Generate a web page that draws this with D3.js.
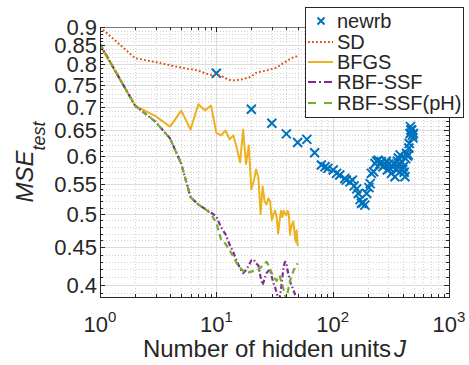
<!DOCTYPE html>
<html><head><meta charset="utf-8">
<script src="https://cdn.jsdelivr.net/npm/d3@7"></script>
<style>body{margin:0;background:#fff} svg{display:block} text{font-family:"Liberation Sans",Arial,Helvetica,sans-serif;fill:#262626}</style>
</head><body><svg id="c" width="469" height="365"></svg>
<script>
// ---------------- data ----------------
const hiddenUnits = [1,2,3,4,5,6,7,8,9,10,11,12,13,14,15,16,17,18,19,20,21,22,23,24,25,26,27,28,29,30,31,32,33,34,35,36,37,38,39,40,41,42,43,44,45,46,47,48,49,50];
const sdValues = [.900,.816,.806,.798,.792,.788,.785,.778,.774,.775,
  .772,.766,.762,.761,.762,.763,.764,.766,.768,.770,
  .775,.779,.781,.782,.783,.784,.785,.786,.787,.789,
  .790,.791,.793,.795,.797,.799,.802,.804,.806,.808,
  .810,.812,.814,.815,.817,.818,.819,.820,.820,.821];
const bfgsValues = [.850,.703,.680,.658,.692,.652,.706,.692,.703,.645,
  .640,.650,.632,.640,.615,.588,.652,.585,.620,.540,
  .555,.575,.560,.500,.545,.520,.515,.525,.520,.490,
  .500,.505,.495,.470,.490,.505,.495,.505,.500,.498,
  .505,.500,.468,.480,.485,.488,.470,.458,.475,.452];
const ssfValues = [.853,.703,.668,.634,.585,.527,.515,.508,.502,.496,
  .479,.469,.454,.443,.431,.421,.415,.419,.425,.432,
  .433,.428,.425,.410,.400,.408,.415,.418,.419,.410,
  .402,.397,.390,.384,.383,.395,.410,.425,.430,.428,
  .418,.412,.405,.400,.397,.393,.390,.386,.383,.380];
const ssfPhValues = [.853,.703,.668,.634,.585,.527,.515,.508,.500,.486,
  .461,.455,.446,.437,.428,.422,.418,.415,.416,.417,
  .418,.419,.420,.422,.425,.428,.430,.426,.420,.415,
  .412,.408,.405,.410,.412,.405,.400,.393,.387,.383,
  .390,.398,.405,.410,.414,.418,.421,.424,.426,.428];
const newrbUnits = [10,20,30,40,50,60,70,80,86,91,101,108,115,127,131,141,148,153,161,166,172,177,183,189,196,205,210,215,225,231,240,246,255,262,270,280,288,295,305,310,320,330,335,343,355,360,367,375,380,392,400,405,412,418,425,432,440,446,452,455,463,470,478,466,485,494,490];
const newrbValues = [.778,.695,.665,.643,.626,.632,.606,.583,.580,.577,.574,.568,.565,.559,.556,.553,.556,.546,.541,.533,.523,.517,.518,.514,.533,.543,.550,.568,.571,.586,.590,.592,.585,.589,.580,.583,.590,.574,.585,.577,.568,.580,.586,.562,.574,.590,.596,.586,.602,.589,.575,.580,.570,.562,.595,.605,.600,.602,.615,.624,.644,.651,.651,.658,.640,.644,.635];
const xTickExponents = [0,1,2,3];
const yTicks = [0.4,0.45,0.5,0.55,0.6,0.65,0.7,0.75,0.8,0.85,0.9];
const yTickLabels = ["0.4","0.45","0.5","0.55","0.6","0.65","0.7","0.75","0.8","0.85","0.9"];
const legendLabels = ["newrb","SD","BFGS","RBF-SSF","RBF-SSF(pH)"];

// ---------------- chart ----------------
const svg = d3.select('#c');
const W = 469, H = 365;
const m = {l:100, r:449, t:27, b:297};
const x = d3.scaleLog().domain([1,1000]).range([m.l,m.r]);
const y = d3.scaleLog().domain([0.385,0.9]).range([m.b,m.t]);
const axisCol = '#262626';
const C = {blue:'#0072BD', orange:'#D95319', yellow:'#EDB120', purple:'#7E2F8E', green:'#77AC30'};

svg.append('rect').attr('width',W).attr('height',H).attr('fill','#fff');
svg.append('defs').append('clipPath').attr('id','clip').append('rect')
  .attr('x',m.l).attr('y',m.t).attr('width',m.r-m.l).attr('height',m.b-m.t);

const xMinor = [];
for (let e=0;e<3;e++) for (let k=2;k<10;k++) xMinor.push(k*Math.pow(10,e));
const xMajor = xTickExponents.map(e=>Math.pow(10,e));
const yMinor = d3.range(39,90).map(d=>d/100).filter(v=>!yTicks.some(t=>Math.abs(t-v)<1e-9));

const grid = svg.append('g');
xMinor.forEach(v=>grid.append('line').attr('x1',Math.round(x(v))+0.5).attr('x2',Math.round(x(v))+0.5)
  .attr('y1',m.t).attr('y2',m.b).attr('stroke','#d2d2d2').attr('stroke-dasharray','1,2'));
yMinor.forEach(v=>grid.append('line').attr('y1',Math.round(y(v))+0.5).attr('y2',Math.round(y(v))+0.5)
  .attr('x1',m.l).attr('x2',m.r).attr('stroke','#d2d2d2').attr('stroke-dasharray','1,2'));
xMajor.forEach(v=>grid.append('line').attr('x1',Math.round(x(v))+0.5).attr('x2',Math.round(x(v))+0.5)
  .attr('y1',m.t).attr('y2',m.b).attr('stroke','#dcdcdc'));
yTicks.forEach(v=>grid.append('line').attr('y1',Math.round(y(v))+0.5).attr('y2',Math.round(y(v))+0.5)
  .attr('x1',m.l).attr('x2',m.r).attr('stroke','#dcdcdc'));

// data
const plot = svg.append('g').attr('clip-path','url(#clip)');
const toPts = (xs,ys)=>xs.map((d,i)=>[d,ys[i]]);
const line = d3.line().x(d=>x(d[0])).y(d=>y(d[1]));

const xMark = 'M-4.5,-4.5L4.5,4.5M-4.5,4.5L4.5,-4.5';
plot.selectAll('path.nr').data(toPts(newrbUnits,newrbValues)).enter().append('path')
  .attr('d',xMark).attr('transform',d=>`translate(${x(d[0])},${y(d[1])})`)
  .attr('stroke',C.blue).attr('stroke-width',2).attr('fill','none');

const series = [
  {v:sdValues, c:C.orange, dash:'1.8,2.2', w:2},
  {v:bfgsValues, c:C.yellow, dash:null, w:2},
  {v:ssfValues, c:C.purple, dash:'5,2.5,1.5,2.5', w:2.2},
  {v:ssfPhValues, c:C.green, dash:'6,4', w:2.2}
];
series.forEach(s=>{
  plot.append('path').attr('d',line(toPts(hiddenUnits,s.v))).attr('fill','none')
    .attr('stroke',s.c).attr('stroke-width',s.w).attr('stroke-dasharray',s.dash)
    .attr('stroke-linejoin','round');
});

// axes box + ticks
const ax = svg.append('g').attr('stroke',axisCol).attr('stroke-width',1);
ax.append('line').attr('x1',m.l+0.5).attr('x2',m.l+0.5).attr('y1',m.t).attr('y2',m.b+0.5);
ax.append('line').attr('x1',m.r+0.5).attr('x2',m.r+0.5).attr('y1',m.t).attr('y2',m.b+0.5);
ax.append('line').attr('x1',m.l).attr('x2',m.r+1).attr('y1',m.b+0.5).attr('y2',m.b+0.5);
ax.append('line').attr('x1',m.l).attr('x2',m.r+1).attr('y1',m.t+0.5).attr('y2',m.t+0.5).attr('stroke','#7a7a7a');
const tk = (v,len,isX)=>{
  if (isX){
    const px = Math.round(x(v))+0.5;
    ax.append('line').attr('x1',px).attr('x2',px).attr('y1',m.b).attr('y2',m.b-len);
    ax.append('line').attr('x1',px).attr('x2',px).attr('y1',m.t).attr('y2',m.t+len);
  } else {
    const py = Math.round(y(v))+0.5;
    ax.append('line').attr('y1',py).attr('y2',py).attr('x1',m.l).attr('x2',m.l+len);
    ax.append('line').attr('y1',py).attr('y2',py).attr('x1',m.r).attr('x2',m.r-len);
  }
};
xMinor.forEach(v=>tk(v,3,true));
xMajor.forEach(v=>tk(v,5,true));
yMinor.forEach(v=>tk(v,3,false));
yTicks.forEach(v=>tk(v,5,false));

// tick labels
yTicks.forEach((v,i)=>svg.append('text').attr('x',m.l-3).attr('y',y(v)+8)
  .attr('text-anchor','end').attr('font-size',22).text(yTickLabels[i]));
xTickExponents.forEach(e=>{
  const t = svg.append('text').attr('x',x(Math.pow(10,e))).attr('y',332)
    .attr('text-anchor','middle').attr('font-size',22);
  t.append('tspan').text('10');
  t.append('tspan').attr('font-size',15).attr('dy',-10).text(String(e));
});

// axis labels
const xl = svg.append('text').attr('x',274.5).attr('y',357).attr('text-anchor','middle').attr('font-size',24);
xl.append('tspan').text('Number of hidden units');
xl.append('tspan').attr('font-style','italic').attr('dx',3).text('J');

const yl = svg.append('text').attr('transform','translate(33,162) rotate(-90)').attr('text-anchor','middle');
yl.append('tspan').attr('font-size',24).attr('font-style','italic').text('MSE');
yl.append('tspan').attr('font-size',18).attr('font-style','italic').attr('dy',12).text('test');

// legend
const lg = svg.append('g');
lg.append('rect').attr('x',305.5).attr('y',7.5).attr('width',158).attr('height',110)
  .attr('fill','#fff').attr('stroke',axisCol).attr('stroke-width',1);
const rowY = [21,42,62,82,103];
const legStyle = [
  {type:'marker', c:C.blue},
  {c:C.orange, dash:'1.8,2.2', w:2},
  {c:C.yellow, dash:null, w:2},
  {c:C.purple, dash:'8,3,2,3', w:2},
  {c:C.green, dash:'8,8', w:2}
];
legendLabels.forEach((lab,i)=>{
  const s = legStyle[i], yy = rowY[i];
  if (s.type==='marker'){
    lg.append('path').attr('d','M-3.5,-3.5L3.5,3.5M-3.5,3.5L3.5,-3.5').attr('transform',`translate(321,${yy})`)
      .attr('stroke',s.c).attr('stroke-width',2).attr('fill','none');
  } else {
    lg.append('line').attr('x1',308).attr('x2',333).attr('y1',yy).attr('y2',yy)
      .attr('stroke',s.c).attr('stroke-width',s.w).attr('stroke-dasharray',s.dash);
  }
  lg.append('text').attr('x',337).attr('y',yy+7).attr('font-size',20).text(lab);
});
</script>
</body></html>
